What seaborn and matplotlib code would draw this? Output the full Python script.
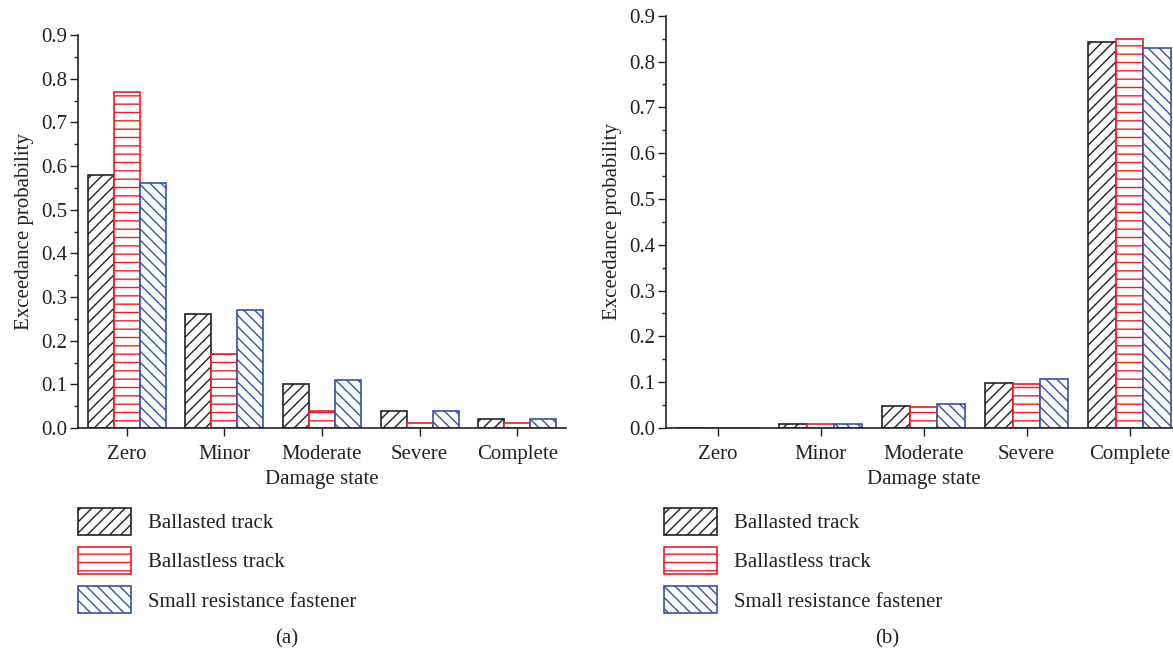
import numpy as np
import pandas as pd
import matplotlib
matplotlib.use("Agg")
import matplotlib.pyplot as plt
from matplotlib.ticker import MultipleLocator, FormatStrFormatter
from matplotlib.patches import Patch
import seaborn as sns

categories = ["Zero", "Minor", "Moderate", "Severe", "Complete"]
series = ["Ballasted track", "Ballastless track", "Small resistance fastener"]

a_ballasted = [0.58, 0.26, 0.10, 0.04, 0.02]
a_ballastless = [0.77, 0.17, 0.04, 0.011, 0.011]
a_small = [0.56, 0.27, 0.11, 0.04, 0.02]

b_ballasted = [0.0, 0.008, 0.049, 0.099, 0.843]
b_ballastless = [0.0, 0.008, 0.046, 0.097, 0.849]
b_small = [0.0, 0.009, 0.053, 0.107, 0.830]

edge_colors = ["#222222", "#ee1c25", "#3551a8"]
hatches = ["///", "--", "\\\\\\"]

sns.set_style("ticks")
plt.rcParams["font.family"] = ["Liberation Serif", "DejaVu Serif"]
plt.rcParams["hatch.linewidth"] = 1.0

def make_df(v1, v2, v3):
    rows = []
    for s, vals in zip(series, [v1, v2, v3]):
        for c, v in zip(categories, vals):
            rows.append({"Damage state": c, "Series": s, "value": v})
    return pd.DataFrame(rows)

fig = plt.figure(figsize=(11.73, 6.52), dpi=100)
W, H = 1173, 652

def px_axes(left, right, top, bottom):
    return fig.add_axes([left / W, 1 - bottom / H, (right - left) / W, (bottom - top) / H])

ax_a = px_axes(78, 566, 35, 428)
ax_b = px_axes(666, 1181, 15.7, 428)

FS = 15
TXT = "#222222"

for ax, data, leg_x, lab_x, lab in [
    (ax_a, make_df(a_ballasted, a_ballastless, a_small), 78, 287, "(a)"),
    (ax_b, make_df(b_ballasted, b_ballastless, b_small), 664, 887, "(b)"),
]:
    sns.barplot(data=data, x="Damage state", y="value", hue="Series",
                order=categories, hue_order=series, ax=ax, width=0.8,
                legend=False, errorbar=None)
    for cont, ec, h in zip(ax.containers, edge_colors, hatches):
        for p in cont:
            p.set_facecolor("white")
            p.set_edgecolor(ec)
            p.set_hatch(h)
            p.set_linewidth(1.2)
    ax.set_xlim(-0.5, 4.5)
    ax.set_ylim(0, 0.9)
    ax.yaxis.set_major_locator(MultipleLocator(0.1))
    ax.yaxis.set_minor_locator(MultipleLocator(0.05))
    ax.yaxis.set_major_formatter(FormatStrFormatter("%.1f"))
    ax.tick_params(axis="both", which="major", labelsize=FS, length=5.5, width=1,
                   color=TXT, labelcolor=TXT)
    ax.tick_params(axis="y", which="minor", length=3, width=1, color=TXT)
    ax.tick_params(axis="x", pad=7)
    ax.tick_params(axis="y", pad=2.5)
    ax.set_xlabel("Damage state", fontsize=FS, color=TXT, labelpad=4)
    ax.set_ylabel("Exceedance probability", fontsize=FS, color=TXT, labelpad=5)
    sns.despine(ax=ax)
    for s in ["left", "bottom"]:
        ax.spines[s].set_linewidth(1.2)
        ax.spines[s].set_color(TXT)

    handles = [Patch(facecolor="white", edgecolor=ec, hatch=h, linewidth=1.2)
               for ec, h in zip(edge_colors, hatches)]
    fig.legend(handles, series, loc="upper left",
               bbox_to_anchor=(leg_x / W, 1 - 508 / H),
               frameon=False, fontsize=FS, borderpad=0, borderaxespad=0,
               handlelength=2.55, handleheight=1.62, handletextpad=0.8,
               labelspacing=0.58, labelcolor=TXT)
    fig.text(lab_x / W, 1 - 639 / H, lab, ha="center", va="center",
             fontsize=FS, color=TXT)

fig.savefig("out.png", dpi=100)
